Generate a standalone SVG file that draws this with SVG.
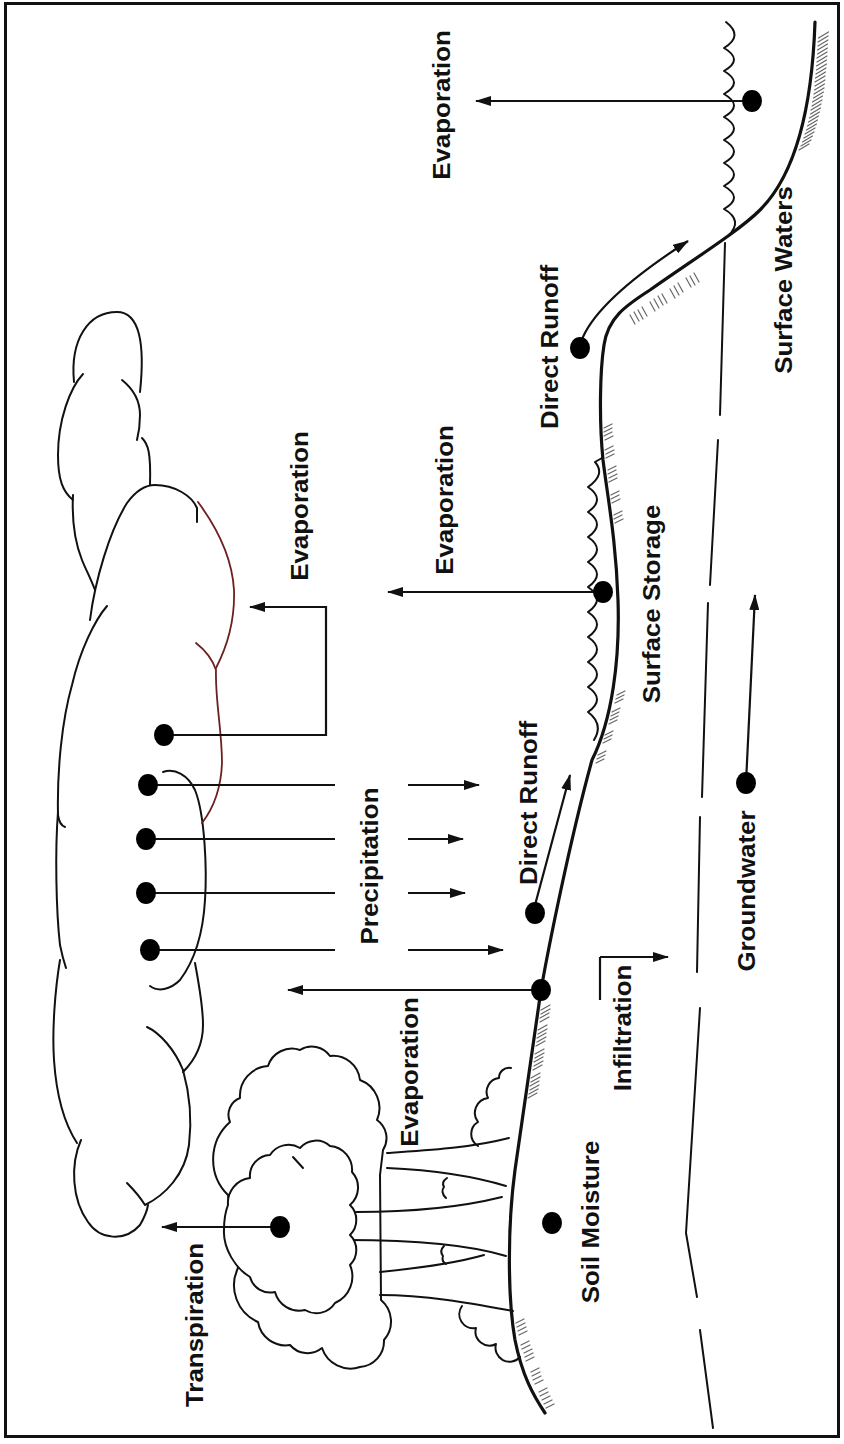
<svg xmlns="http://www.w3.org/2000/svg" width="844" height="1444" viewBox="0 0 844 1444">
<style>
  .ln{fill:none;stroke:#111;stroke-width:2;stroke-linecap:round;stroke-linejoin:round}
  .gr{fill:none;stroke:#111;stroke-width:3.2;stroke-linecap:round;stroke-linejoin:round}
  .red{fill:none;stroke:#6e1f1f;stroke-width:1.8;stroke-linecap:round}
  .crown{fill:#fff;stroke:#111;stroke-width:2;stroke-linejoin:round}
  .hatch{fill:none;stroke:#666;stroke-width:1.2;stroke-linecap:round}
  .arr{fill:none;stroke:#111;stroke-width:2.2;marker-end:url(#ah)}
  .con{fill:none;stroke:#111;stroke-width:2.2}
  .dot{fill:#000}
  .lbl{font-family:"Liberation Sans",Arial,sans-serif;font-weight:bold;font-size:24px;fill:#111;text-anchor:middle}
</style>
<defs>
  <marker id="ah" viewBox="0 0 16 10" refX="15" refY="5" markerWidth="16" markerHeight="10" markerUnits="userSpaceOnUse" orient="auto">
    <path d="M0,0 L16,5 L0,10 Z" fill="#111"/>
  </marker>
</defs>
<rect x="0" y="0" width="844" height="1444" fill="#fff"/>
<!-- frame -->
<rect x="5.5" y="3.5" width="833" height="1433" fill="none" stroke="#111" stroke-width="3"/>

<!-- cloud -->
<g id="cloud">
  <path class="ln" d="M74,382 C70,340 88,312 117,312 C140,312 145,345 140,392"/>
  <path class="ln" d="M83,374 C70,388 58,420 58,455 C58,480 63,492 73,500"/>
  <path class="ln" d="M122,380 C132,388 140,400 140,415 C140,425 139,432 137,440"/>
  <path class="ln" d="M142,438 C148,444 151,452 150,485"/>
  <path class="ln" d="M73,495 C72,515 74,540 82,560 C86,570 90,577 95,590"/>
  <path class="ln" d="M90,620 C95,580 110,530 127,503 C135,492 145,485 155,485 C175,485 192,496 197,508 L197,522"/>
  <path class="ln" d="M107,606 C95,620 80,650 72,685 C62,720 57,770 58,815 C59,822 62,826 65,827"/>
  <path class="ln" d="M58,812 C55,850 56,910 60,945 C62,955 64,962 66,968"/>
  <path class="ln" d="M60,960 C55,990 52,1030 54,1060 C56,1090 62,1120 77,1143"/>
  <path class="ln" d="M81,1140 C70,1165 72,1200 88,1222 C100,1240 125,1242 140,1225 C144,1218 147,1212 148,1205"/>
  <path class="ln" d="M127,1183 C134,1190 140,1197 145,1205 C165,1195 185,1175 189,1145 C192,1120 190,1095 183,1070"/>
  <path class="ln" d="M147,1027 C160,1033 175,1050 183,1070"/>
  <path class="ln" d="M183,1072 C195,1060 203,1045 203,1025 C203,1005 199,985 195,963"/>
  <path class="ln" d="M163,772 C175,768 188,775 195,790 C205,815 207,870 205,900 C203,935 195,960 180,980 C170,990 158,992 150,986"/>
  <path class="red" d="M198,502 C215,525 232,555 234,590 C235,620 228,645 216,668"/>
  <path class="red" d="M196,643 C205,650 212,658 216,670 C215,700 222,730 222,763 C221,790 212,810 202,823"/>
</g>

<!-- trees and shrubs -->
<g id="trees">
  <path class="crown" d="M383,1150 A22,22 0 0,0 377,1120 A30,30 0 0,0 360,1080 A27,27 0 0,0 330,1056 A22,22 0 0,0 300,1050 A25,25 0 0,0 268,1066 A30,30 0 0,0 240,1098 A18,18 0 0,0 230,1122 A50,50 0 0,0 228,1195 L238,1268 A40,40 0 0,0 258,1322 A28,28 0 0,0 290,1345 A23,23 0 0,0 322,1348 A30,30 0 0,0 360,1367 A26,26 0 0,0 384,1340 A28,28 0 0,0 381,1300 L380,1175 Z"/>
  <path class="ln" d="M387,1153 C430,1150 470,1148 509,1138"/>
  <path class="ln" d="M387,1168 C430,1170 470,1175 506,1186"/>
  <path class="ln" d="M356,1212 C420,1212 470,1205 502,1197"/>
  <path class="ln" d="M347,1240 C410,1240 470,1245 506,1256"/>
  <path class="ln" d="M380,1272 C420,1268 460,1262 484,1255"/>
  <path class="ln" d="M380,1295 C430,1295 480,1305 513,1311"/>
  <path class="crown" d="M228,1205 A25,25 0 0,1 250,1178 A21,21 0 0,1 270,1155 A22,22 0 0,1 300,1148 A21,21 0 0,1 330,1146 A24,24 0 0,1 352,1172 A23,23 0 0,1 350,1205 A21,21 0 0,1 350,1235 A21,21 0 0,1 350,1265 A29,29 0 0,1 335,1303 A22,22 0 0,1 305,1310 A25,25 0 0,1 275,1292 A21,21 0 0,1 250,1277 C235,1268 223,1248 224,1230 C224,1218 226,1210 228,1205 Z"/>
  <path class="ln" d="M293,1157 L303,1168"/>
  <path class="ln" d="M447,1178 q-6,4 -3,9 q-4,5 2,11 M444,1246 q-5,5 -1,10 q-2,5 3,8"/>
  <path class="ln" d="M478,1146 A14,14 0 0,1 478,1122 A15,15 0 0,1 488,1098 A14,14 0 0,1 499,1078 A10,10 0 0,1 511,1068"/>
  <path class="ln" d="M462,1306 A14,14 0 0,0 476,1328 A14,14 0 0,0 496,1344 A14,14 0 0,0 520,1357"/>
</g>

<!-- land surface -->
<g id="ground">
  <path class="gr" d="M815,22 C812,110 795,175 760,210 C740,230 700,255 650,290 C625,306 608,318 604,345 C600,370 599,420 603,460 C608,500 616,540 618,600 C620,660 612,720 592,760 C570,840 548,950 541,990 L515,1170 C507,1230 508,1300 515,1340 C522,1375 533,1395 545,1413"/>
</g>

<!-- open water and ponded water -->
<g id="water">
  <path class="ln" d="M726,22 Q744,36 724,48 Q744,59.5 724,71 Q744,82.5 724,94 Q744,105.5 724,117 Q744,128.5 724,140 Q744,151.5 724,163 Q744,174.5 724,186 Q744,197.5 724,209 Q744,220.5 728,236"/>
  <path class="ln" d="M602,458 L595,462 Q606,474.5 588,487 Q606,499.5 588,512 Q606,524.5 588,537 Q606,549.5 588,562 Q606,574.5 588,587 Q606,599.5 588,612 Q606,624.5 588,637 Q606,649.5 588,662 Q606,674.5 588,687 Q606,699.5 588,712 Q604,724 594,740"/>
</g>

<!-- soil hatching -->
<g id="hatching" class="hatch">
  <path d="M818.5,38 l10,-6 M818,42 l10,-6 M818,46 l10,-6 M817.5,50 l10,-6 M817.5,54 l10,-6 M817,58 l10,-6 M817,62 l10,-6 M816.5,66 l10,-6 M816.5,70 l10,-6 M816,74 l10,-6 M815.5,78 l10,-6 M815,82 l10,-6 M815,86 l10,-6 M814.5,90 l10,-6 M814,94 l10,-6 M813.5,98 l10,-6 M812.5,102 l10,-6 M812,106 l10,-6 M811,110 l10,-6 M810.5,114 l10,-6 M809.5,118 l10,-6 M808.5,122 l10,-6 M807.5,126 l10,-6 M806.5,130 l10,-6 M805,134 l10,-6 M804,138 l10,-6 M802.5,142 l10,-6 M801,146 l10,-6 M799,150 l10,-6"/>
  <path d="M630,315 l5,9 M634,312 l5,9 M638,310 l5,9 M642,307 l5,9 M650,302 l5,9 M654,299 l5,9 M658,296 l5,9 M662,294 l5,9 M670,289 l5,9 M674,286 l5,9 M678,283 l5,9 M686,278 l5,9 M690,276 l5,9 M694,273 l5,9"/>
  <path d="M604,428 l8,-4 M604,432 l8,-4 M604,436 l8,-4 M605,440 l8,-4 M605,450 l8,-4 M606,454 l8,-4 M606,458 l8,-4 M608,470 l8,-4 M608,474 l8,-4 M609,478 l8,-4 M609,482 l8,-4 M611,495 l8,-4 M611,499 l8,-4 M612,503 l8,-4 M614,515 l8,-4 M614,519 l8,-4 M615,523 l8,-4"/>
  <path d="M617,695 l8,-4 M616,699 l8,-4 M615,703 l8,-4 M612,712 l8,-4 M611,716 l8,-4 M610,720 l8,-4 M609,724 l8,-4 M605,735 l8,-4 M604,739 l8,-4 M603,743 l8,-4 M598,755 l8,-4 M597,759 l8,-4 M596,763 l8,-4"/>
  <path d="M541,1010 l9,-5 M541,1014 l9,-5 M540,1018 l9,-5 M540,1022 l9,-5 M538,1030 l9,-5 M538,1034 l9,-5 M537,1038 l9,-5 M537,1042 l9,-5 M536,1046 l9,-5 M535,1054 l9,-5 M535,1058 l9,-5 M534,1062 l9,-5 M534,1066 l9,-5 M533,1070 l9,-5 M531,1078 l9,-5 M531,1082 l9,-5 M530,1086 l9,-5 M530,1090 l9,-5 M529,1094 l9,-5 M528,1098 l9,-5"/>
  <path d="M516,1323 l8,-4 M517,1327 l8,-4 M518,1331 l8,-4 M519,1335 l8,-4 M521,1345 l8,-4 M522,1349 l8,-4 M524,1353 l8,-4 M525,1357 l8,-4 M526,1361 l8,-4 M531,1372 l8,-4 M532,1376 l8,-4 M533,1380 l8,-4 M535,1384 l8,-4 M539,1392 l8,-4 M540,1396 l8,-4 M542,1400 l8,-4 M544,1404 l8,-4 M546,1408 l8,-4"/>
</g>

<!-- water table -->
<g id="watertable">
  <path class="ln" d="M725,243 L720,415 M718,440 L710,585 M708,603 L702,797 M700,817 L697,972 M700,1008 L686,1233 L697,1297 M700,1330 L713,1428"/>
</g>

<!-- flow connectors -->
<g id="connectors">
  <path class="arr" d="M752,101 H476"/>
  <path class="arr" d="M581,342 C592,310 640,272 688,241"/>
  <path class="arr" d="M603,592 H388"/>
  <path class="con" d="M164,735 H326 V607 H268"/>
  <path class="arr" d="M300,607 H250"/>
  <path class="con" d="M148,785 H335 M146,839 H335 M146,893 H335 M150,950 H335"/>
  <path class="arr" d="M408,785 H479"/>
  <path class="arr" d="M408,839 H463"/>
  <path class="arr" d="M408,893 H465"/>
  <path class="arr" d="M408,950 H503"/>
  <path class="arr" d="M535,905 L570,775"/>
  <path class="arr" d="M541,990 H288"/>
  <path class="arr" d="M746,783 L755,595"/>
  <path class="con" d="M600,957 V1000"/>
  <path class="arr" d="M600,957 H668"/>
  <path class="arr" d="M280,1227 H162"/>
</g>

<!-- process nodes -->
<g id="node-surface-waters-evaporation">
  <ellipse class="dot" cx="752" cy="101" rx="10" ry="11"/>
  <text class="lbl" transform="translate(450,105) rotate(-90) scale(1.08,1)">Evaporation</text>
</g>
<g id="node-surface-waters">
  <text class="lbl" transform="translate(792,280) rotate(-90) scale(1.08,1)">Surface Waters</text>
</g>
<g id="node-direct-runoff-upper">
  <ellipse class="dot" cx="580" cy="348" rx="10" ry="11"/>
  <text class="lbl" transform="translate(558,347) rotate(-90) scale(1.08,1)">Direct Runoff</text>
</g>
<g id="node-surface-storage-evaporation">
  <ellipse class="dot" cx="603" cy="592" rx="10" ry="11"/>
  <text class="lbl" transform="translate(453,500) rotate(-90) scale(1.08,1)">Evaporation</text>
</g>
<g id="node-cloud-evaporation">
  <ellipse class="dot" cx="164" cy="735" rx="10" ry="11"/>
  <text class="lbl" transform="translate(308,506) rotate(-90) scale(1.08,1)">Evaporation</text>
</g>
<g id="node-surface-storage">
  <text class="lbl" transform="translate(660,604) rotate(-90) scale(1.08,1)">Surface Storage</text>
</g>
<g id="node-precipitation">
  <ellipse class="dot" cx="148" cy="785" rx="10" ry="11"/>
  <ellipse class="dot" cx="146" cy="839" rx="10" ry="11"/>
  <ellipse class="dot" cx="146" cy="893" rx="10" ry="11"/>
  <ellipse class="dot" cx="150" cy="950" rx="10" ry="11"/>
  <text class="lbl" transform="translate(378,866) rotate(-90) scale(1.08,1)">Precipitation</text>
</g>
<g id="node-direct-runoff-lower">
  <ellipse class="dot" cx="535" cy="913" rx="10" ry="11"/>
  <text class="lbl" transform="translate(537,803) rotate(-90) scale(1.08,1)">Direct Runoff</text>
</g>
<g id="node-groundwater">
  <ellipse class="dot" cx="746" cy="783" rx="10" ry="11"/>
  <text class="lbl" transform="translate(755,891) rotate(-90) scale(1.08,1)">Groundwater</text>
</g>
<g id="node-ground-evaporation">
  <ellipse class="dot" cx="541" cy="990" rx="10" ry="11"/>
  <text class="lbl" transform="translate(418,1072) rotate(-90) scale(1.08,1)">Evaporation</text>
</g>
<g id="node-infiltration">
  <text class="lbl" transform="translate(631,1028) rotate(-90) scale(1.08,1)">Infiltration</text>
</g>
<g id="node-soil-moisture">
  <ellipse class="dot" cx="552" cy="1223" rx="10" ry="11"/>
  <text class="lbl" transform="translate(599,1222) rotate(-90) scale(1.08,1)">Soil Moisture</text>
</g>
<g id="node-transpiration">
  <ellipse class="dot" cx="280" cy="1227" rx="10" ry="11"/>
  <text class="lbl" transform="translate(203,1325) rotate(-90) scale(1.08,1)">Transpiration</text>
</g>
</svg>
